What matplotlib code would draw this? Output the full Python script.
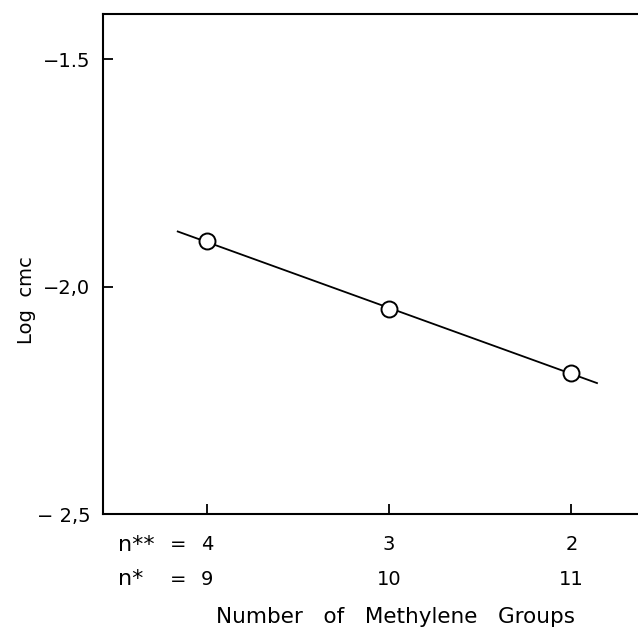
import numpy as np
import matplotlib
matplotlib.use("Agg")
import matplotlib.pyplot as plt

# data
n_star = [9, 10, 11]
n_dstar = ["4", "3", "2"]
n_star_labels = ["9", "10", "11"]
log_cmc = [-1.90, -2.05, -2.19]
y_ticks = [-1.5, -2.0, -2.5]
y_tick_labels = ["\u22121.5", "\u22122,0", "\u2212 2,5"]

plt.rcParams['font.family'] = ['DejaVu Sans']
W, H = 638, 631
fig = plt.figure(figsize=(W / 100, H / 100), dpi=100)
ax = fig.add_axes([103 / W, 1 - 514 / H, 1 - 103 / W + 0.01, (514 - 14) / H])

ax.set_xlim(8.43, 11.40)
ax.set_ylim(-2.5, -1.40)

# fitted line extended past points
coef = np.polyfit(n_star, log_cmc, 1)
xl = np.array([8.84, 11.14])
ax.plot(xl, np.polyval(coef, xl), color='black', lw=1.3, zorder=2)
ax.plot(n_star, log_cmc, 'o', ms=11.5, mfc='white', mec='black', mew=1.4, zorder=3)

for s in ['left', 'bottom', 'top']:
    ax.spines[s].set_linewidth(1.5)
ax.spines['right'].set_visible(False)

ax.set_yticks(y_ticks)
ax.set_yticklabels(y_tick_labels, fontsize=14)
ax.set_xticks(n_star)
ax.set_xticklabels([])
ax.tick_params(axis='both', direction='in', length=7.5, width=1.3, pad=9)

# two rows of x labels
for x, a, b in zip(n_star, n_dstar, n_star_labels):
    ax.annotate(a, xy=(x, 0), xycoords=('data', 'axes fraction'),
                xytext=(0, -22), textcoords='offset points',
                ha='center', va='center', fontsize=14)
    ax.annotate(b, xy=(x, 0), xycoords=('data', 'axes fraction'),
                xytext=(0, -47), textcoords='offset points',
                ha='center', va='center', fontsize=14)

ax.annotate("n**", xy=(9, 0), xycoords=('data', 'axes fraction'),
            xytext=(-64, -22), textcoords='offset points',
            ha='left', va='center', fontsize=16)
ax.annotate("=", xy=(9, 0), xycoords=('data', 'axes fraction'),
            xytext=(-21, -22), textcoords='offset points',
            ha='center', va='center', fontsize=14)
ax.annotate("n*", xy=(9, 0), xycoords=('data', 'axes fraction'),
            xytext=(-64, -47), textcoords='offset points',
            ha='left', va='center', fontsize=16)
ax.annotate("=", xy=(9, 0), xycoords=('data', 'axes fraction'),
            xytext=(-21, -47), textcoords='offset points',
            ha='center', va='center', fontsize=14)

fig.text(395 / W, 1 - 617 / H, "Number   of   Methylene   Groups",
         ha='center', va='center', fontsize=15.5)
fig.text(27 / W, 1 - 300 / H, "Log  cmc", rotation=90,
         ha='center', va='center', fontsize=14)

fig.savefig("out.png", dpi=100)
